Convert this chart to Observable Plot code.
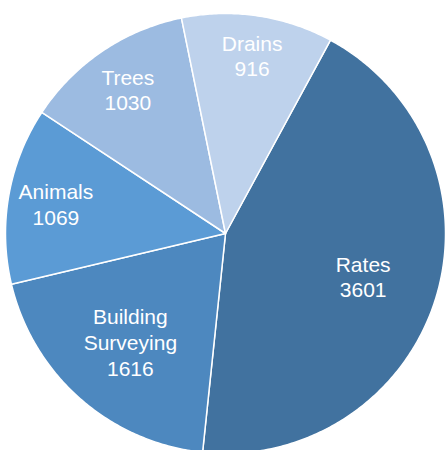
<!DOCTYPE html>
<html>
<head>
<meta charset="utf-8">
<script src="https://cdn.jsdelivr.net/npm/d3@7"></script>
<script src="https://cdn.jsdelivr.net/npm/@observablehq/plot@0.6"></script>
<style>
  html, body { margin: 0; padding: 0; background: #fff; }
  #chart svg { display: block; }
</style>
</head>
<body>
<div id="chart"></div>
<script>
const categories = ["Rates", "Building Surveying", "Animals", "Trees", "Drains"];
const values = [3601, 1616, 1069, 1030, 916];
const labelLines = ["Rates", "Building\nSurveying", "Animals", "Trees", "Drains"];
const colors = ["#41729F", "#4D88BF", "#5B9BD5", "#9CBBE1", "#BED2EC"];

const data = categories.map((c, i) => ({category: c, value: values[i], label: labelLines[i]}));

const startDeg = 28.5;
const pie = d3.pie().sort(null).value(d => d.value)
  .startAngle(startDeg * Math.PI / 180)
  .endAngle((startDeg + 360) * Math.PI / 180);
const arcs = pie(data);

// polygon points for each slice (unit radius, angle clockwise from top)
const slicePts = [];
arcs.forEach(a => {
  const n = Math.max(8, Math.ceil((a.endAngle - a.startAngle) / 0.01));
  slicePts.push({category: a.data.category, x: 0, y: 0});
  for (let k = 0; k <= n; k++) {
    const t = a.startAngle + (a.endAngle - a.startAngle) * k / n;
    slicePts.push({category: a.data.category, x: Math.sin(t), y: Math.cos(t)});
  }
  slicePts.push({category: a.data.category, x: 0, y: 0});
});

const labels = arcs.map(a => {
  const mid = (a.startAngle + a.endAngle) / 2;
  const spanDeg = (a.endAngle - a.startAngle) * 180 / Math.PI;
  const r = spanDeg >= 70 ? 0.655 : 0.655 + (70 - spanDeg) * 0.0055;
  return {x: r * Math.sin(mid), y: r * Math.cos(mid), text: a.data.label + "\n" + a.data.value};
});

const chart = Plot.plot({
  width: 445,
  height: 450,
  margin: 0,
  x: {domain: [-225 / 220, 220 / 220], axis: null},
  y: {domain: [-217 / 220, 233 / 220], axis: null},
  color: {domain: categories, range: colors},
  style: {fontFamily: "Arial, 'Liberation Sans', sans-serif", background: "#fff"},
  marks: [
    Plot.line(slicePts, {x: "x", y: "y", z: "category", fill: "category", stroke: "#fff", strokeWidth: 1.5, curve: "linear-closed"}),
    Plot.text(labels, {x: "x", y: "y", text: "text", fill: "#fff", fontSize: 21, lineHeight: 1.22})
  ]
});
document.getElementById("chart").appendChild(chart);
</script>
</body>
</html>
